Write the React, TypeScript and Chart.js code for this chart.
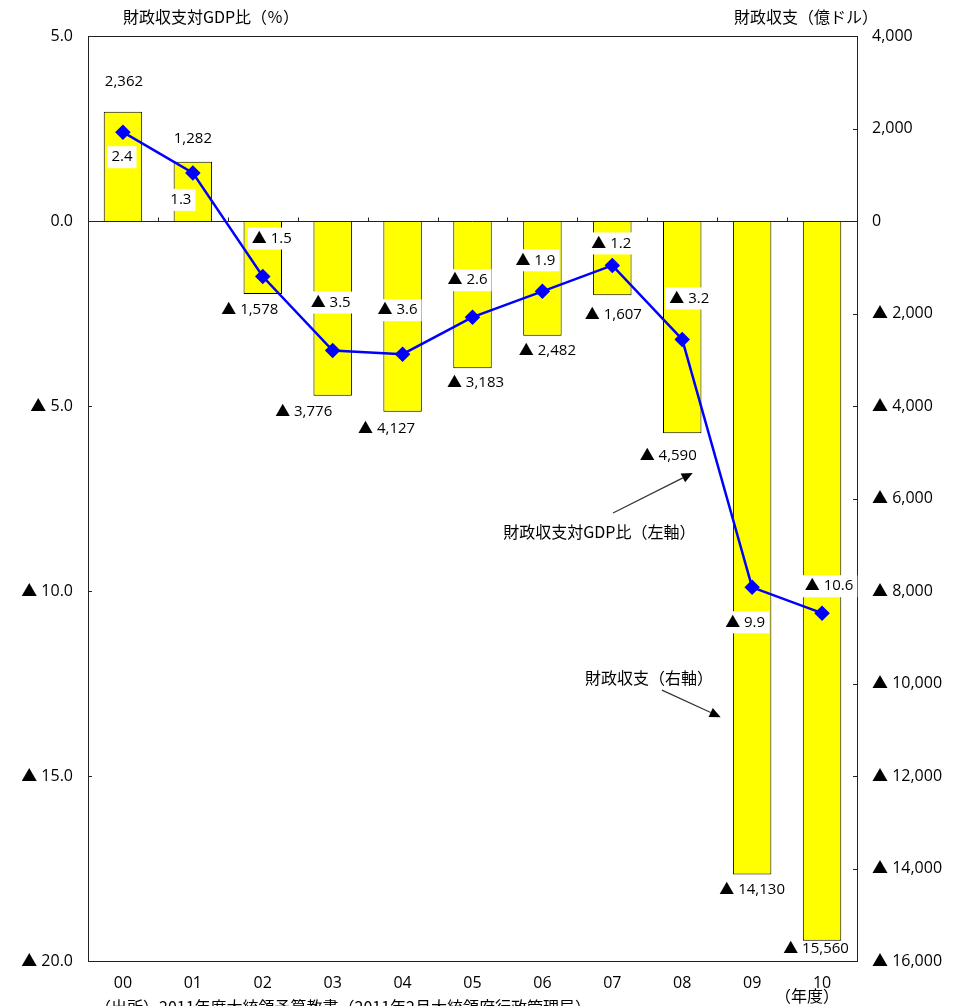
import { useEffect, useRef } from "react";
import { Chart, registerables } from "chart.js";

Chart.register(...registerables);

const categories = ["00", "01", "02", "03", "04", "05", "06", "07", "08", "09", "10"];
const balance = [2362, 1282, -1578, -3776, -4127, -3183, -2482, -1607, -4590, -14130, -15560];
const gdpRatio = [2.4, 1.3, -1.5, -3.5, -3.6, -2.6, -1.9, -1.2, -3.2, -9.9, -10.6];
const leftTickValues = [5, 0, -5, -10, -15, -20];
const rightTickValues = [4000, 2000, 0, -2000, -4000, -6000, -8000, -10000, -12000, -14000, -16000];

// label nudges (pixels) relative to bar end / line point
const barLabelNudge: [number, number][] = [
  [1, -30], [0, -23], [-13, 16], [-29, 16], [-16, 17], [3, 15], [5, 15], [1, 19], [-14, 22], [0, 15], [-6, 8],
];
const lineLabelNudge: [number, number][] = [
  [-1, 25], [-12, 27], [9, -38], [-2, -48], [-5, -44], [-5, -37], [-7, -31], [-1, -22], [7, -41], [-7, 35], [7, -27],
];

const leftTitle = "財政収支対GDP比（％）";
const rightTitle = "財政収支（億ドル）";
const lineNote = "財政収支対GDP比（左軸）";
const barNote = "財政収支（右軸）";
const xUnit = "（年度）";
const source = "（出所）2011年度大統領予算教書（2011年2月大統領府行政管理局）";

const NUMFONT = '"Open Sans", "Noto Sans CJK JP", sans-serif';
const CJKFONT = '"Noto Sans CJK JP", sans-serif';

const fmtPct = (v: number) => (v < 0 ? "▲ " + Math.abs(v).toFixed(1) : v.toFixed(1));
const fmtNum = (v: number) =>
  v < 0 ? "▲ " + Math.abs(v).toLocaleString("en-US") : v.toLocaleString("en-US");

function drawArrow(ctx: CanvasRenderingContext2D, x1: number, y1: number, x2: number, y2: number) {
  ctx.save();
  ctx.strokeStyle = "#333";
  ctx.fillStyle = "#000";
  ctx.lineWidth = 1.2;
  const ang = Math.atan2(y2 - y1, x2 - x1);
  const hl = 11;
  const hw = 5;
  const bx = x2 - hl * Math.cos(ang);
  const by = y2 - hl * Math.sin(ang);
  ctx.beginPath();
  ctx.moveTo(x1, y1);
  ctx.lineTo(bx, by);
  ctx.stroke();
  ctx.beginPath();
  ctx.moveTo(x2, y2);
  ctx.lineTo(bx + hw * Math.sin(ang), by - hw * Math.cos(ang));
  ctx.lineTo(bx - hw * Math.sin(ang), by + hw * Math.cos(ang));
  ctx.closePath();
  ctx.fill();
  ctx.restore();
}

const decorPlugin = {
  id: "decor",
  afterDatasetsDraw(chart: any) {
    const ctx: CanvasRenderingContext2D = chart.ctx;
    const area = chart.chartArea;
    const xs = chart.scales.x;
    const ys = chart.scales.y;
    const ys1 = chart.scales.y1;
    ctx.save();

    // frame
    ctx.strokeStyle = "#222";
    ctx.lineWidth = 1;
    ctx.strokeRect(Math.round(area.left) + 0.5, Math.round(area.top) + 0.5,
      Math.round(area.right - area.left), Math.round(area.bottom - area.top));

    // zero line
    const y0 = Math.round(ys.getPixelForValue(0)) + 0.5;
    ctx.beginPath();
    ctx.moveTo(area.left, y0);
    ctx.lineTo(area.right, y0);
    ctx.stroke();

    // category boundary ticks on zero line
    for (let i = 0; i < categories.length - 1; i++) {
      const x = Math.round(xs.getPixelForValue(i + 0.5)) + 0.5;
      ctx.beginPath();
      ctx.moveTo(x, y0);
      ctx.lineTo(x, y0 - 4);
      ctx.stroke();
    }
    // left inner ticks
    leftTickValues.forEach((v) => {
      const y = Math.round(ys.getPixelForValue(v)) + 0.5;
      ctx.beginPath();
      ctx.moveTo(area.left, y);
      ctx.lineTo(area.left + 4, y);
      ctx.stroke();
    });
    // right inner ticks
    rightTickValues.forEach((v) => {
      const y = Math.round(ys1.getPixelForValue(v)) + 0.5;
      ctx.beginPath();
      ctx.moveTo(area.right, y);
      ctx.lineTo(area.right - 4, y);
      ctx.stroke();
    });

    // bar labels
    ctx.font = "15px " + NUMFONT;
    ctx.textAlign = "center";
    ctx.textBaseline = "middle";
    balance.forEach((v, i) => {
      const x = xs.getPixelForValue(i) + barLabelNudge[i][0];
      const y = ys1.getPixelForValue(v) + barLabelNudge[i][1];
      ctx.fillStyle = "#000";
      ctx.fillText(fmtNum(v), x, y);
    });

    // line labels with white boxes
    gdpRatio.forEach((v, i) => {
      const x = xs.getPixelForValue(i) + lineLabelNudge[i][0];
      const y = ys.getPixelForValue(v) + lineLabelNudge[i][1];
      const t = fmtPct(v);
      const w = ctx.measureText(t).width;
      ctx.fillStyle = "#fff";
      ctx.fillRect(x - w / 2 - 4, y - 11, w + 8, 22);
      ctx.fillStyle = "#000";
      ctx.fillText(t, x, y);
    });

    // annotations
    ctx.font = "16px " + CJKFONT;
    ctx.fillStyle = "#000";
    ctx.textAlign = "left";
    ctx.fillText(lineNote, xs.getPixelForValue(5.44), ys.getPixelForValue(-8.41));
    drawArrow(ctx, xs.getPixelForValue(7.01), ys.getPixelForValue(-7.89),
      xs.getPixelForValue(8.15), ys.getPixelForValue(-6.81));
    ctx.fillText(barNote, xs.getPixelForValue(6.61), ys.getPixelForValue(-12.35));
    drawArrow(ctx, xs.getPixelForValue(7.71), ys.getPixelForValue(-12.68),
      xs.getPixelForValue(8.55), ys.getPixelForValue(-13.41));

    // axis titles
    ctx.textAlign = "center";
    ctx.fillText(leftTitle, area.left + 123, area.top - 19);
    ctx.fillText(rightTitle, area.right - 51, area.top - 19);

    // x unit
    ctx.fillText(xUnit, xs.getPixelForValue(10) - 15, area.bottom + 35);

    // source (clipped at bottom)
    ctx.textAlign = "left";
    ctx.textBaseline = "top";
    ctx.fillText(source, area.left + 7, area.bottom + 38);

    ctx.restore();
  },
};

export default function App() {
  const ref = useRef<HTMLCanvasElement | null>(null);
  useEffect(() => {
    document.body.style.margin = "0";
    document.body.style.overflow = "hidden";
    const canvas = ref.current;
    if (!canvas) return;
    const tickFont = { family: NUMFONT, size: 16 };
    const chart = new Chart(canvas, {
      type: "bar",
      data: {
        labels: categories,
        datasets: [
          {
            type: "line",
            label: "財政収支対GDP比",
            data: gdpRatio,
            yAxisID: "y",
            borderColor: "#0000FF",
            backgroundColor: "#0000FF",
            borderWidth: 2.5,
            pointStyle: "rectRot",
            pointRadius: 6,
            pointBackgroundColor: "#0000FF",
            pointBorderColor: "#0000FF",
            tension: 0,
            order: 0,
          } as any,
          {
            type: "bar",
            label: "財政収支",
            data: balance,
            yAxisID: "y1",
            backgroundColor: "#FFFF00",
            borderColor: "#000000",
            borderWidth: 1,
            barPercentage: 0.55,
            categoryPercentage: 1,
            order: 1,
          } as any,
        ],
      },
      options: {
        responsive: false,
        animation: false,
        layout: { padding: { top: 36, left: 0, right: 0, bottom: 0 } },
        plugins: { legend: { display: false }, tooltip: { enabled: false } },
        scales: {
          x: {
            type: "category",
            grid: { display: false, drawTicks: false },
            border: { display: false },
            ticks: { font: tickFont, color: "#000", padding: 13, maxRotation: 0 },
            afterFit: (s: any) => { s.height = 45; },
          },
          y: {
            type: "linear",
            position: "left",
            min: -20,
            max: 5,
            grid: { display: false, drawTicks: false },
            border: { display: false },
            afterBuildTicks: (s: any) => { s.ticks = leftTickValues.map((v) => ({ value: v })); },
            ticks: { font: tickFont, color: "#000", padding: 15, callback: (v: any) => fmtPct(Number(v)) },
            afterFit: (s: any) => { s.width = 88; },
          },
          y1: {
            type: "linear",
            position: "right",
            min: -16000,
            max: 4000,
            grid: { display: false, drawTicks: false },
            border: { display: false },
            afterBuildTicks: (s: any) => { s.ticks = rightTickValues.map((v) => ({ value: v })); },
            ticks: { font: tickFont, color: "#000", padding: 15, callback: (v: any) => fmtNum(Number(v)) },
            afterFit: (s: any) => { s.width = 107; },
          },
        },
      } as any,
      plugins: [decorPlugin],
    });
    return () => chart.destroy();
  }, []);
  return <canvas ref={ref} width={964} height={1006} style={{ display: "block" }} />;
}
